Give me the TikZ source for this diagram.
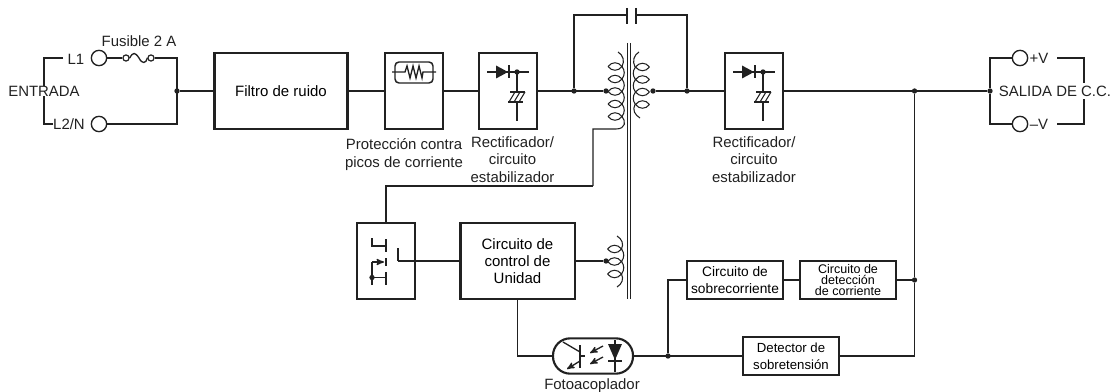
\documentclass[tikz,border=0pt]{standalone}
\usepackage{fontspec}
\setmainfont{Liberation Sans}
\usetikzlibrary{calc}
\usetikzlibrary{arrows}
\definecolor{ink}{gray}{.13}
\tikzset{
 wire/.style={ink, line width=1pt},
 blockbox/.style={draw=ink, line width=2pt, inner sep=0pt, align=center, font=\fontsize{11.25}{12.75}\selectfont},
 sidetext/.style={inner sep=0pt, align=center, text=ink, font=\fontsize{11.2}{13}\selectfont},
 dot/.style={circle, fill=ink, inner sep=0pt, minimum size=4pt},
 port/.style={circle, draw=ink, line width=1pt, fill=white, inner sep=0pt, minimum size=11.5pt},
 coilturn/.pic={
  \draw[wire, line width=.8pt] (-7,0) .. controls (-3,-5) and (3,-5) .. (7,0) .. controls (3,5) and (-3,5) .. (-7,0);
 },
 coilside/.pic={
  \draw[wire, line width=.8pt] (7,0) .. controls (10,4) and (10,8.5) .. (7,12.5);
 },
 rectsym/.pic={
  \draw[wire] (-30,-19) -- (12,-19);
  \fill[ink] (-21,-25.5) -- (-9,-19) -- (-21,-12.5) -- cycle;
  \draw[ink, line width=1.4pt] (-8,-25.5) -- (-8,-12.5);
  \node[dot] at (0,-19) {};
  \draw[wire] (0,-19) -- (0,1);
  \draw[wire] (0,11) -- (0,30);
  \draw[wire] (-7,1) -- (8,1);
  \draw[wire] (-9,11) -- (6,11);
  \foreach \x in {-6,-1,4} {
   \draw[wire, line width=.8pt] (\x-2,11) -- (\x+4,1);
  }
 }
}
\begin{document}
\begin{tikzpicture}[x=.75pt, y=-.75pt, >=stealth']
\useasboundingbox (0,0) rectangle (1110,392);
% blocks
\node[blockbox, minimum width=100pt, minimum height=57pt] (filtro) at (281,91) {Filtro de ruido};
\node[blockbox, minimum width=43.5pt, minimum height=57pt] (protec) at (414,91) {};
\node[blockbox, minimum width=43.5pt, minimum height=57pt] (rectA) at (508,91) {};
\node[blockbox, minimum width=43.5pt, minimum height=57pt] (rectB) at (754,91) {};
\node[blockbox, minimum width=43.5pt, minimum height=57pt] (switch) at (386,261) {};
\node[blockbox, minimum width=86pt, minimum height=57pt] (control) at (517.5,261) {Circuito de\\control de\\Unidad};
\node[blockbox, minimum width=72pt, minimum height=28.5pt, font=\fontsize{10.3}{12.4}\selectfont] (sobrec) at (735,280) {Circuito de\\sobrecorriente};
\node[blockbox, minimum width=72pt, minimum height=28.5pt, font=\fontsize{9.4}{7.9}\selectfont] (detecc) at (848,280) {Circuito de\\detección\\de corriente};
\node[blockbox, minimum width=72pt, minimum height=28.5pt, font=\fontsize{9.9}{12.6}\selectfont] (sobret) at (791,356) {Detector de\\sobretensión};
\node[draw=ink, line width=1.6pt, rounded corners=12.9pt, minimum width=60pt, minimum height=26.5pt, inner sep=0pt] (opto) at (593,356) {};
% terminals
\node[port] (lone) at (99,58) {};
\node[port] (ltwo) at (99,124) {};
\node[port] (vpos) at (1020,58) {};
\node[port] (vneg) at (1020,124) {};
\node[dot] (jin) at (177,91) {};
\node[dot] (jcapA) at (574,91) {};
\node[dot] (jpri) at (606,91) {};
\node[dot] (jsec) at (653,91) {};
\node[dot] (jcapB) at (687,91) {};
\node[dot] (jout) at (914.5,91) {};
\node[dot] (jport) at (990,91) {};
\node[dot] (jaux) at (606,261) {};
\node[dot] (jsense) at (914.5,280) {};
\node[dot] (jopto) at (668,356) {};
% texts
\node[sidetext] (entrada) at (44,91) {ENTRADA};
\node[sidetext] (tone) at (76,59) {L1};
\node[sidetext] (ttwo) at (69,124) {L2/N};
\node[sidetext] (fusible) at (139,41) {Fusible 2 A};
\node[sidetext] (tprot) at (404,154.5) {Protección contra\\picos de corriente};
\node[sidetext] (trectA) at (512.5,159.5) {Rectificador/\\circuito\\estabilizador};
\node[sidetext] (trectB) at (754,159.5) {Rectificador/\\circuito\\estabilizador};
\node[sidetext] (tfoto) at (592,386) {Fotoacoplador};
\node[sidetext] (tsalida) at (1055,91) {SALIDA DE C.C.};
\node[sidetext] (tpos) at (1039,58) {+V};
\node[sidetext] (tneg) at (1039,124) {–V};
% fuse
\node[circle, draw=ink, line width=.9pt, inner sep=0pt, minimum size=4.6pt] (fuseA) at (126,58) {};
\node[circle, draw=ink, line width=.9pt, inner sep=0pt, minimum size=4.6pt] (fuseB) at (151,58) {};
\draw[wire] (fuseA.east) .. controls (133,52) and (135,52) .. (139,58) .. controls (142,64) and (146,64) .. (fuseB.west);
% mains side
\coordinate (inA) at (177,58);
\coordinate (inB) at (177,124);
\draw[wire] (lone) -- (fuseA);
\draw[wire] (fuseB) -- (inA) -- (inB) -- (ltwo);
\draw[wire] (jin) -- (filtro);
\draw[wire] (filtro) -- (protec);
\draw[wire] (protec) -- (rectA);
\draw[wire] (rectA) -- (jpri);
\draw[wire] (63,58) -| (entrada.north);
\draw[wire] (53,124) -| (entrada.south);
% capacitor
\coordinate (capA) at (627,15);
\coordinate (capB) at (636,15);
\draw[wire] (jcapA) |- (capA);
\draw[wire] (jcapB) |- (capB);
\draw[ink, line width=1.3pt] (627,8) -- (627,24);
\draw[ink, line width=1.3pt] (636,8) -- (636,24);
% core
\draw[wire, line width=.9pt] (627.5,43) -- (627.5,299);
\draw[wire, line width=.9pt] (630.5,43) -- (630.5,299);
% coils
\foreach \y in {66.5,79,91.5,104,116.5} {
 \pic at (615,\y) {coilturn};
}
\foreach \y in {66.5,79,91.5,104} {
 \pic at (615,\y) {coilside};
}
\foreach \y in {67,79.5,92,104.5} {
 \pic[xscale=-1] at (642.5,\y) {coilturn};
}
\foreach \y in {67,79.5,92} {
 \pic[xscale=-1] at (642.5,\y) {coilside};
}
\foreach \y in {249,261.5,274} {
 \pic at (614.5,\y) {coilturn};
}
\foreach \y in {249,261.5} {
 \pic at (614.5,\y) {coilside};
}
\draw[wire, line width=.8pt] (618,52) .. controls (623,55) and (625,61) .. (622,66.5);
\draw[wire, line width=.8pt] (622,116.5) .. controls (626,121) and (626,129) .. (616,129) -- (593,129) -- (593,186);
\draw[wire, line width=.8pt] (639,52) .. controls (634,55) and (632,61) .. (635,67);
\draw[wire, line width=.8pt] (635,104.5) .. controls (632,110) and (635,115) .. (640,118);
\draw[wire, line width=.8pt] (617,236) .. controls (622,239) and (624,244) .. (621.5,249);
\draw[wire, line width=.8pt] (621.5,274) .. controls (624,279) and (622,284) .. (617,287);
% secondary side
\draw[wire] (jsec) -- (rectB);
\draw[wire] (rectB) -- (jport);
\draw[wire] (vpos) -| (jport);
\draw[wire] (vneg) -| (jport);
\draw[wire] (1057,58) -| (1084,83);
\draw[wire] (1057,124) -| (1084,99);
% feedback
\coordinate (feed) at (593,186);
\coordinate (contact) at (398,261);
\draw[wire] (switch.north) |- (feed);
\draw[wire] (control.east) -- (jaux);
\draw[wire] (control.west) -- (contact);
\draw[ink, line width=1.3pt] (contact) -- (398,248);
\draw[wire] (control.south) |- (opto.west);
\draw[wire] (opto.east) -- (sobret.west);
\draw[wire] (jopto) |- (sobrec.west);
\draw[wire] (sobrec) -- (detecc);
\draw[wire] (detecc) -- (jsense);
\draw[wire] (sobret.east) -| (jsense);
\draw[wire] (jout) -- (jsense);
% protector
\draw[ink, line width=1.1pt, rounded corners=3pt] (395,62) rectangle (433,83);
\draw[wire] (392,72) -- (405,72) -- ++(2,-6) -- ++(3,12) -- ++(3,-12) -- ++(3,12) -- ++(3,-12) -- ++(3,12) -- ++(1,-6) -- (436,72);
% rectifiers
\pic at (517,91) {rectsym};
\pic at (763,91) {rectsym};
% switch
\draw[ink, line width=1.3pt] (386,239) -- (386,252);
\draw[ink, line width=1.3pt] (386,258) -- (386,266);
\draw[ink, line width=1.3pt] (386,272) -- (386,285);
\draw[wire] (372,238) |- (386,246);
\draw[wire] (372,285) -- (372,262);
\draw[wire, ->] (372,262) -- (384,262);
\draw[wire] (372,277.5) -- (386,277.5);
\node[dot] (jswitch) at (372,277.5) {};
% optocoupler
\draw[ink, line width=1.3pt] (580,345) -- (580,368);
\draw[wire] (563,342) -- (580,352);
\draw[wire, ->] (580,361) -- (567,369);
\draw[wire] (580,356) -- (585,356);
\draw[wire, ->] (603,346) -- (590,353);
\draw[wire, ->] (603,357) -- (590,364);
\fill[ink] (608,344) -- (622,344) -- (615,360) -- cycle;
\draw[ink, line width=1.1pt] (608,361) -- (622,361);
\draw[wire] (615,340) -- (615,372);
\end{tikzpicture}
\end{document}
